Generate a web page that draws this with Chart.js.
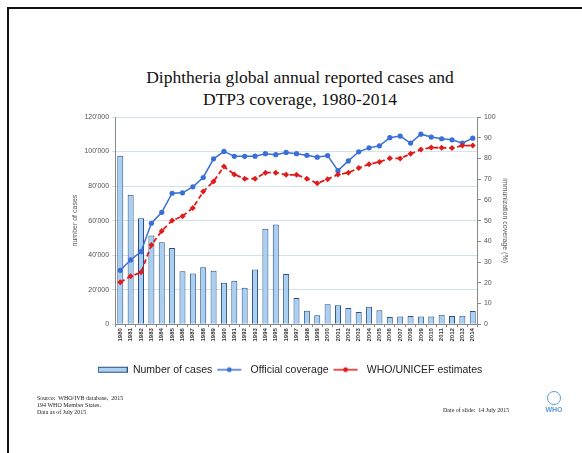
<!DOCTYPE html>
<html>
<head>
<meta charset="utf-8">
<script src="https://cdn.jsdelivr.net/npm/chart.js@4"></script>
<style>
  body { margin: 0; background: #fff; }
  #page { position: relative; width: 582px; height: 453px; overflow: hidden; background: #fff; }
  #frame { position: absolute; left: 7px; top: 7px; right: -10px; bottom: -10px; border-top: 2px solid #111; border-left: 2px solid #111; }
  #title { position: absolute; left: 0; width: 600px; top: 66px; text-align: center;
    font-family: "Liberation Serif", "DejaVu Serif", serif; font-size: 17.5px; line-height: 22px; color: #111; }
  #wrap { position: absolute; left: 0; top: 0; width: 582px; height: 453px; }
  .foot { position: absolute; font-family: "Liberation Serif", serif; font-size: 6px; line-height: 7px; color: #222; }
  #who { position: absolute; left: 541px; top: 391px; width: 26px; text-align: center;
    font-family: "Liberation Sans", Arial, sans-serif; font-size: 7px; font-weight: bold; color: #5b9bd5; }
  #who .globe { width: 14px; height: 14px; margin: 0 auto 1px; border: 1.5px solid #5b9bd5; border-radius: 50%; box-sizing: border-box; }
</style>
</head>
<body>
<div id="page">
  <div id="frame"></div>
  <div id="title">Diphtheria global annual reported cases and<br>DTP3 coverage, 1980-2014</div>
  <div id="wrap"><canvas id="chart"></canvas></div>
  <div class="foot" style="left:37px; top:395px;">Source:&nbsp; WHO/IVB database,&nbsp; 2015<br>194 WHO Member States.<br>Data as of July 2015</div>
  <div class="foot" style="left:443px; top:407px;">Date of slide:&nbsp; 14 July 2015</div>
  <div id="who"><div class="globe"></div>WHO</div>
</div>
<script>
//Dados do gráfico
const anos = ['1980','1981','1982','1983','1984','1985','1986','1987','1988','1989','1990','1991','1992','1993','1994','1995','1996','1997','1998','1999','2000','2001','2002','2003','2004','2005','2006','2007','2008','2009','2010','2011','2012','2013','2014']
const casos = [97500, 74900, 61300, 51300, 47400, 44100, 30600, 29400, 32900, 31000, 24000, 25200, 21100, 31700, 55200, 57700, 29000, 15100, 7700, 5200, 11600, 10900, 9300, 7000, 10100, 8000, 4100, 4500, 4700, 4500, 4500, 5400, 4700, 4900, 7600]
const oficial = [26, 31, 35, 48.7, 54, 63.2, 63.4, 66.3, 70.8, 79.8, 83.4, 81, 81, 81.1, 82.3, 81.8, 82.9, 82.3, 81.5, 80.6, 81.4, 74.1, 78.8, 83.2, 85.1, 86.1, 90, 90.8, 87.4, 91.7, 90.3, 89.5, 89, 87.4, 89.8]
const estimativa = [20.2, 23.1, 25, 38.2, 45, 50, 52.1, 56.1, 64, 68.9, 76.1, 72.3, 70.2, 70.2, 73.1, 73.1, 72.1, 72.1, 70.2, 68, 70, 72.2, 73.1, 75.4, 77.2, 78.3, 80.1, 80, 82.2, 84.3, 85.3, 85.1, 85, 86.2, 86.2]

const azul = '#3a6fd8'
const vermelho = '#e01b1b'
const fonte = '"Liberation Sans", Arial, sans-serif'

//Ícones da legenda
const icone = (tipo, cor) => {
    const c = document.createElement('canvas')
    c.width = 30; c.height = 8
    const g = c.getContext('2d')
    if (tipo === 'bar') {
        g.fillStyle = '#a9cff2'
        g.strokeStyle = '#2b4f80'
        g.lineWidth = 1
        g.fillRect(0.5, 1.5, 29, 5)
        g.strokeRect(0.5, 1.5, 29, 5)
    } else {
        g.strokeStyle = cor
        g.lineWidth = 1.5
        g.beginPath(); g.moveTo(2, 4); g.lineTo(26, 4); g.stroke()
        g.fillStyle = cor
        g.beginPath(); g.arc(14, 4, 2.4, 0, Math.PI * 2); g.fill()
    }
    return c
}

const milhar = (v) => String(v).replace(/\B(?=(\d{3})+(?!\d))/g, "'")

let ctx = document.getElementById('chart')
let chart = new Chart(ctx, {
    data: {
        labels: anos,
        datasets: [
            {
                type: 'line',
                label: 'Official coverage',
                data: oficial,
                yAxisID: 'y1',
                borderColor: azul,
                backgroundColor: azul,
                borderWidth: 1.5,
                pointRadius: 2.6,
                pointBorderWidth: 0,
                order: 1
            },
            {
                type: 'line',
                label: 'WHO/UNICEF estimates',
                data: estimativa,
                yAxisID: 'y1',
                borderColor: vermelho,
                backgroundColor: vermelho,
                borderWidth: 1.8,
                borderDash: [5, 3],
                pointStyle: 'rectRot',
                pointRadius: 3,
                pointBorderWidth: 0,
                order: 0
            },
            {
                type: 'bar',
                label: 'Number of cases',
                data: casos,
                yAxisID: 'y',
                backgroundColor: '#a9cff2',
                borderColor: '#2b4f80',
                borderWidth: 1,
                barPercentage: 0.58,
                categoryPercentage: 1,
                order: 2
            }
        ]
    },
    options: {
        responsive: true,
        maintainAspectRatio: false,
        animation: false,
        layout: { padding: { top: 117, left: 69, right: 71, bottom: 68 } },
        plugins: {
            tooltip: { enabled: false },
            legend: {
                position: 'bottom',
                labels: {
                    font: { family: fonte, size: 10.5 },
                    color: '#222',
                    usePointStyle: true,
                    pointStyleWidth: 30,
                    padding: 3,
                    generateLabels: (c) => {
                        const ordem = [2, 0, 1]
                        return ordem.map(i => {
                            const ds = c.data.datasets[i]
                            return {
                                text: ds.label,
                                datasetIndex: i,
                                pointStyle: icone(ds.type, ds.borderColor),
                                fontColor: '#222',
                                lineWidth: 0,
                                hidden: false
                            }
                        })
                    }
                }
            }
        },
        scales: {
            x: {
                offset: true,
                afterFit: (s) => { s.height += 19 },
                grid: { display: true, drawOnChartArea: false, offset: true, color: '#888', tickLength: 3 },
                border: { color: '#888' },
                ticks: { minRotation: 90, maxRotation: 90, autoSkip: false, font: { family: fonte, size: 6, weight: 'bold' }, color: '#333', padding: 1 }
            },
            y: {
                position: 'left',
                min: 0,
                max: 120000,
                ticks: { stepSize: 20000, callback: milhar, font: { family: fonte, size: 7 }, color: '#555', padding: 3 },
                grid: { color: '#d3e3ec', drawTicks: true, tickLength: 3 },
                border: { color: '#888' },
                title: { display: true, text: 'number of cases', font: { family: fonte, size: 7 }, color: '#555', padding: 2 }
            },
            y1: {
                position: 'right',
                min: 0,
                max: 100,
                ticks: { stepSize: 10, font: { family: fonte, size: 7 }, color: '#555', padding: 3 },
                grid: { drawOnChartArea: false, color: '#888', tickLength: 3 },
                border: { color: '#888' },
                title: { display: true, text: 'immunization coverage (%)', font: { family: fonte, size: 7 }, color: '#555', padding: 2 }
            }
        }
    }
});
</script>
</body>
</html>
